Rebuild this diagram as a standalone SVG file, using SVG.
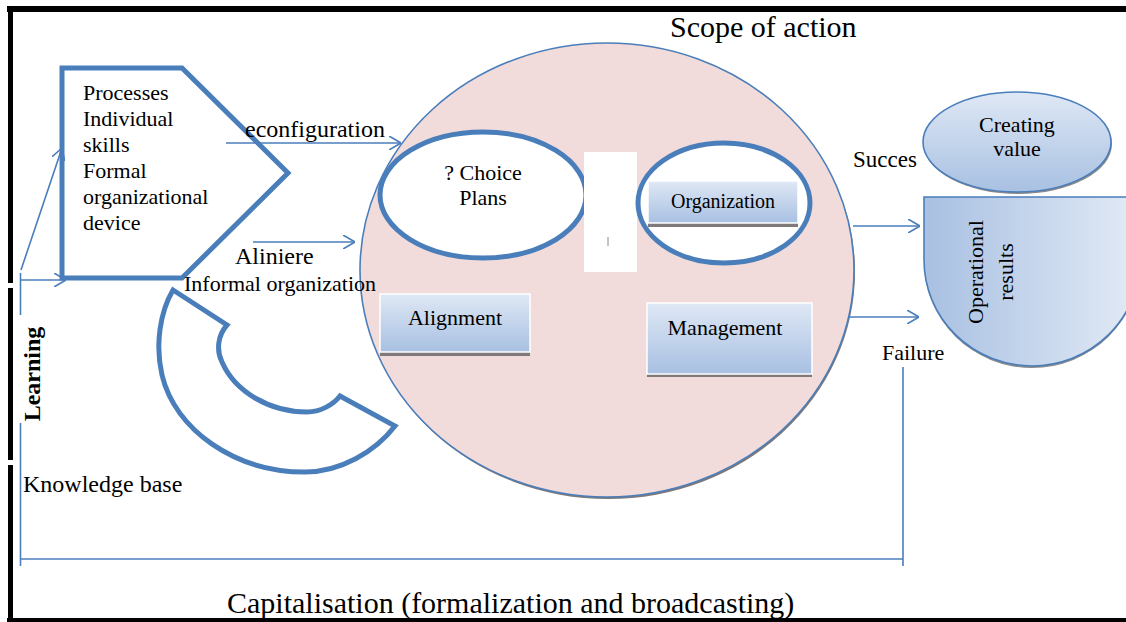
<svg xmlns="http://www.w3.org/2000/svg" width="1126" height="622" viewBox="0 0 1126 622">
<style>
.t{font-family:"Liberation Serif","Times New Roman",serif;fill:#000}
.thick{fill:#fff;stroke:#4a7ebb;stroke-width:5}
.thin{fill:none;stroke:#4a7ebb;stroke-width:1.6}
.frame{fill:#000}
.box{fill:url(#gv);stroke:#fff;stroke-width:1.5}
.shadow{fill:#7f7979}
</style>
<defs>
<linearGradient id="gv" x1="0" y1="0" x2="0" y2="1">
<stop offset="0" stop-color="#dfe8f5"/><stop offset="1" stop-color="#a8c0e2"/>
</linearGradient>
<linearGradient id="gh" x1="0" y1="0" x2="1" y2="0">
<stop offset="0" stop-color="#a8c0e2"/><stop offset="1" stop-color="#e3ebf6"/>
</linearGradient>
<marker id="ah" viewBox="0 0 12 14" refX="12" refY="7" markerWidth="12" markerHeight="14" markerUnits="userSpaceOnUse" orient="auto">
<path d="M0,0 L12,7 L0,14" fill="none" stroke="#4a7ebb" stroke-width="1.6"/>
</marker>
</defs>
<rect width="1126" height="622" fill="#fff"/>
<g id="frame">
<rect class="frame" x="7" y="6" width="1119" height="6"/>
<rect class="frame" x="8" y="6" width="5" height="277"/>
<rect class="frame" x="8" y="288" width="5" height="172"/>
<rect class="frame" x="8" y="465" width="5" height="157"/>
<rect class="frame" x="7" y="618" width="1119" height="4"/>
</g>
<g id="scope">
<ellipse cx="608" cy="272" rx="247" ry="227" fill="#807878"/>
<ellipse cx="607" cy="270" rx="247" ry="227" fill="#f2dcdb" stroke="#4a7ebb" stroke-width="1.6"/>
<text class="t" x="670" y="37" font-size="30">Scope of action</text>
</g>
<g id="pentagon">
<polygon class="thick" points="62,68 182,68 288,173 182,278 62,278"/>
<text class="t" font-size="22"><tspan x="83" y="100">Processes</tspan><tspan x="83" y="126">Individual</tspan><tspan x="83" y="152">skills</tspan><tspan x="83" y="178">Formal</tspan><tspan x="83" y="204">organizational</tspan><tspan x="83" y="230">device</tspan></text>
</g>
<g id="informal">
<path class="thick" d="M173,290 L227,325 C218,335 216,350 222,362 C235,392 270,412 307,412 C320,412 333,405 340,396 L395,426 C375,452 340,472 305,472 C235,472 175,430 162,375 C155,345 160,312 173,290 Z"/>
</g>
<g id="choice">
<ellipse class="thick" cx="483" cy="195" rx="103" ry="63"/>
<text class="t" font-size="22" text-anchor="middle"><tspan x="483" y="180">? Choice</tspan><tspan x="483" y="205">Plans</tspan></text>
</g>
<g id="blank">
<rect x="584" y="152" width="53" height="120" fill="#fff"/>
<line x1="608" y1="237" x2="608" y2="246" stroke="#888" stroke-width="1"/>
</g>
<g id="organization">
<ellipse class="thick" cx="724" cy="203" rx="86" ry="60"/>
<rect class="shadow" x="648" y="185" width="150" height="42"/>
<rect class="box" x="648" y="181" width="150" height="42"/>
<text class="t" x="723" y="208" font-size="20" text-anchor="middle">Organization</text>
</g>
<g id="alignment">
<rect class="shadow" x="380" y="298" width="150" height="58"/>
<rect class="box" x="380" y="294" width="150" height="58"/>
<text class="t" x="455" y="325" font-size="22" text-anchor="middle">Alignment</text>
</g>
<g id="management">
<rect class="shadow" x="647" y="307" width="165" height="70"/>
<rect class="box" x="647" y="303" width="165" height="71"/>
<text class="t" x="725" y="335" font-size="22" text-anchor="middle">Management</text>
</g>
<g id="creating">
<ellipse cx="1018" cy="144" rx="94" ry="50" fill="#8a8a8a"/>
<ellipse cx="1017" cy="142" rx="94" ry="50" fill="url(#gv)" stroke="#4a7ebb" stroke-width="1.6"/>
<text class="t" font-size="22" text-anchor="middle"><tspan x="1017" y="132">Creating</tspan><tspan x="1017" y="156">value</tspan></text>
</g>
<g id="operational">
<path d="M924,199 L1140,199 L1140,262 A106,104 0 0,1 924,262 Z" fill="#8a8a8a"/>
<path d="M924,197 L1140,197 L1140,260 A106,104 0 0,1 924,260 Z" fill="url(#gh)" stroke="#4a7ebb" stroke-width="1.6"/>
<text class="t" font-size="22" text-anchor="middle" transform="translate(983,272) rotate(-90)">Operational</text>
<text class="t" font-size="22" text-anchor="middle" transform="translate(1013,272) rotate(-90)">results</text>
</g>
<g id="labels">
<text class="t" x="245" y="137" font-size="24">econfiguration</text>
<text class="t" x="235" y="264" font-size="24">Aliniere</text>
<text class="t" x="184" y="291" font-size="22">Informal organization</text>
<text class="t" x="853" y="167" font-size="23">Succes</text>
<text class="t" x="882" y="360" font-size="22">Failure</text>
<text class="t" x="23" y="492" font-size="24">Knowledge base</text>
<text class="t" x="227" y="613" font-size="30">Capitalisation (formalization and broadcasting)</text>
<text class="t" font-size="24" font-weight="bold" text-anchor="middle" transform="translate(40,374) rotate(-90)">Learning</text>
</g>
<g id="connectors">
<line class="thin" x1="21" y1="270" x2="62" y2="148" marker-end="url(#ah)"/>
<line class="thin" x1="20.5" y1="280" x2="66" y2="280" marker-end="url(#ah)"/>
<line class="thin" x1="20.5" y1="273" x2="20.5" y2="315"/>
<line class="thin" x1="20.5" y1="423" x2="20.5" y2="566"/>
<line class="thin" x1="20.5" y1="559" x2="903" y2="559"/>
<line class="thin" x1="903" y1="367" x2="903" y2="566"/>
<line class="thin" x1="226" y1="143" x2="401" y2="143" marker-end="url(#ah)"/>
<line class="thin" x1="253" y1="242" x2="355" y2="242" marker-end="url(#ah)"/>
<line class="thin" x1="853" y1="226" x2="920" y2="226" marker-end="url(#ah)"/>
<line class="thin" x1="849" y1="317" x2="919" y2="317" marker-end="url(#ah)"/>
</g>
</svg>
